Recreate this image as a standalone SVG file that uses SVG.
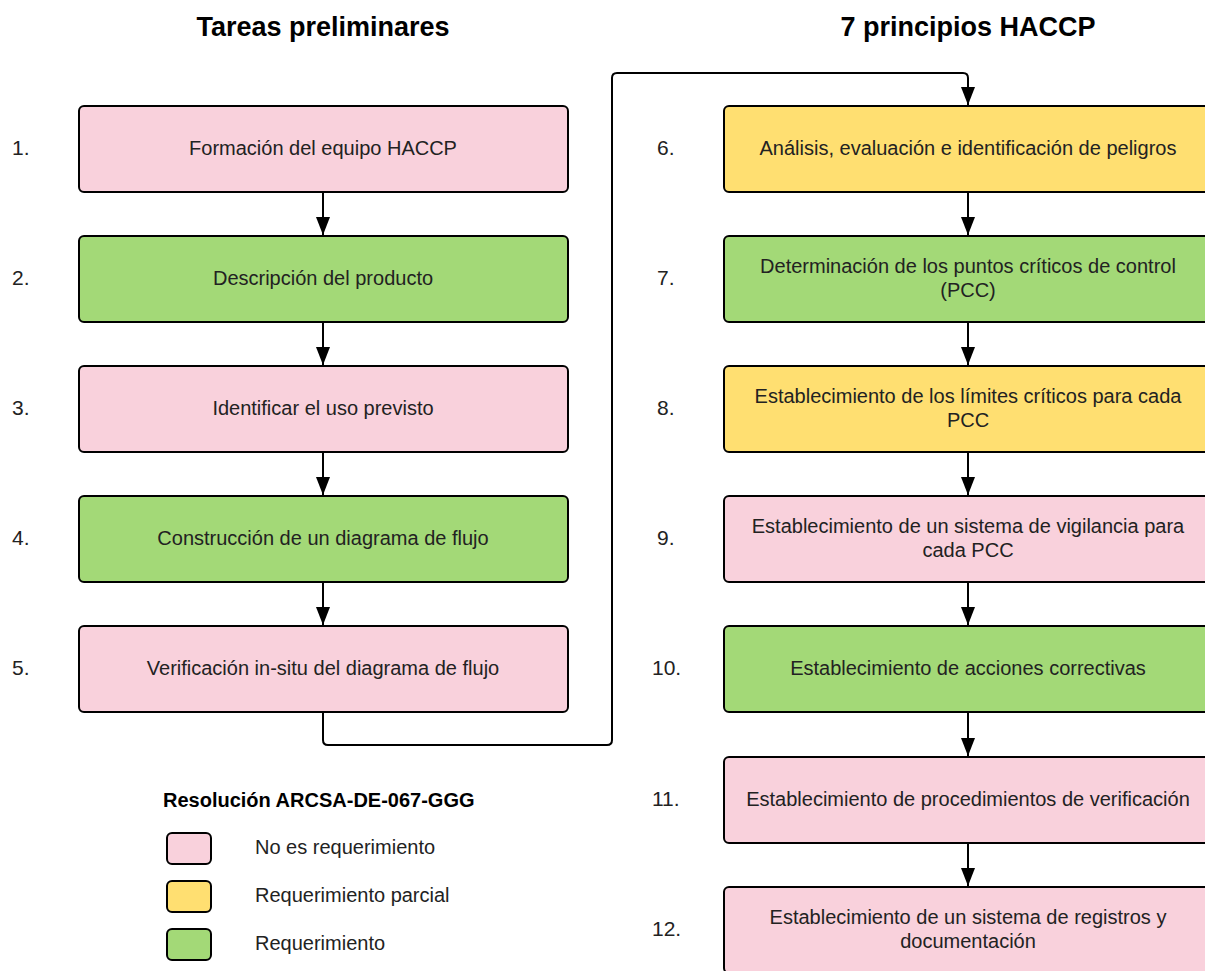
<svg xmlns="http://www.w3.org/2000/svg" width="1205" height="971" viewBox="0 0 1205 971">
<style>
.box{stroke:#000;stroke-width:2}
.pink{fill:#f9d1dc}
.green{fill:#a3d977}
.yellow{fill:#ffdf71}
.t{font-family:"Liberation Sans",Arial,sans-serif;font-size:20px;fill:#222;text-anchor:middle}
.n{font-family:"Liberation Sans",Arial,sans-serif;font-size:21px;fill:#222}
.h{font-family:"Liberation Sans",Arial,sans-serif;font-size:27px;font-weight:bold;fill:#000;text-anchor:middle}
.lh{font-family:"Liberation Sans",Arial,sans-serif;font-size:20px;font-weight:bold;fill:#000}
.lt{font-family:"Liberation Sans",Arial,sans-serif;font-size:20px;fill:#222}
.c{fill:none;stroke:#000;stroke-width:2}
</style>
<defs>
<marker id="ah" markerWidth="18" markerHeight="14" refX="18" refY="7" orient="auto" markerUnits="userSpaceOnUse" viewBox="0 0 18 14">
<path d="M0,0 L18,7 L0,14 z" fill="#000"/>
</marker>
</defs>
<rect width="1205" height="971" fill="#fff"/>
<text class="h" x="323" y="36">Tareas preliminares</text>
<text class="h" x="968" y="36">7 principios HACCP</text>

<g id="connectors">
<path class="c" d="M323,192 V235" marker-end="url(#ah)"/>
<path class="c" d="M323,322 V365" marker-end="url(#ah)"/>
<path class="c" d="M323,452 V495" marker-end="url(#ah)"/>
<path class="c" d="M323,582 V625" marker-end="url(#ah)"/>
<path class="c" d="M323,712 V740 Q323,745 328,745 H607 Q612,745 612,740 V78 Q612,73 617,73 H963 Q968,73 968,78 V105" marker-end="url(#ah)"/>
<path class="c" d="M968,192 V235" marker-end="url(#ah)"/>
<path class="c" d="M968,322 V365" marker-end="url(#ah)"/>
<path class="c" d="M968,452 V495" marker-end="url(#ah)"/>
<path class="c" d="M968,582 V625" marker-end="url(#ah)"/>
<path class="c" d="M968,712 V756" marker-end="url(#ah)"/>
<path class="c" d="M968,843 V886" marker-end="url(#ah)"/>
</g>

<g id="n1"><text class="n" x="12" y="155">1.</text><rect class="box pink" x="79" y="106" width="489" height="86" rx="5"/><text class="t" x="323" y="155">Formación del equipo HACCP</text></g>
<g id="n2"><text class="n" x="12" y="285">2.</text><rect class="box green" x="79" y="236" width="489" height="86" rx="5"/><text class="t" x="323" y="285">Descripción del producto</text></g>
<g id="n3"><text class="n" x="12" y="415">3.</text><rect class="box pink" x="79" y="366" width="489" height="86" rx="5"/><text class="t" x="323" y="415">Identificar el uso previsto</text></g>
<g id="n4"><text class="n" x="12" y="545">4.</text><rect class="box green" x="79" y="496" width="489" height="86" rx="5"/><text class="t" x="323" y="545">Construcción de un diagrama de flujo</text></g>
<g id="n5"><text class="n" x="12" y="675">5.</text><rect class="box pink" x="79" y="626" width="489" height="86" rx="5"/><text class="t" x="323" y="675">Verificación in-situ del diagrama de flujo</text></g>

<g id="n6"><text class="n" x="657" y="155">6.</text><rect class="box yellow" x="724" y="106" width="489" height="86" rx="5"/><text class="t" x="968" y="155">Análisis, evaluación e identificación de peligros</text></g>
<g id="n7"><text class="n" x="657" y="285">7.</text><rect class="box green" x="724" y="236" width="489" height="86" rx="5"/><text class="t" x="968" y="273">Determinación de los puntos críticos de control</text><text class="t" x="968" y="297">(PCC)</text></g>
<g id="n8"><text class="n" x="657" y="415">8.</text><rect class="box yellow" x="724" y="366" width="489" height="86" rx="5"/><text class="t" x="968" y="403">Establecimiento de los límites críticos para cada</text><text class="t" x="968" y="427">PCC</text></g>
<g id="n9"><text class="n" x="657" y="545">9.</text><rect class="box pink" x="724" y="496" width="489" height="86" rx="5"/><text class="t" x="968" y="533">Establecimiento de un sistema de vigilancia para</text><text class="t" x="968" y="557">cada PCC</text></g>
<g id="n10"><text class="n" x="652" y="675">10.</text><rect class="box green" x="724" y="626" width="489" height="86" rx="5"/><text class="t" x="968" y="675">Establecimiento de acciones correctivas</text></g>
<g id="n11"><text class="n" x="652" y="806">11.</text><rect class="box pink" x="724" y="757" width="489" height="86" rx="5"/><text class="t" x="968" y="806">Establecimiento de procedimientos de verificación</text></g>
<g id="n12"><text class="n" x="652" y="936">12.</text><rect class="box pink" x="724" y="887" width="489" height="86" rx="5"/><text class="t" x="968" y="924">Establecimiento de un sistema de registros y</text><text class="t" x="968" y="948">documentación</text></g>

<g id="legend">
<text class="lh" x="163" y="807">Resolución ARCSA-DE-067-GGG</text>
<rect class="box pink" x="167" y="833" width="44" height="31" rx="5"/>
<text class="lt" x="255" y="854">No es requerimiento</text>
<rect class="box yellow" x="167" y="881" width="44" height="31" rx="5"/>
<text class="lt" x="255" y="902">Requerimiento parcial</text>
<rect class="box green" x="167" y="929" width="44" height="31" rx="5"/>
<text class="lt" x="255" y="950">Requerimiento</text>
</g>
</svg>
